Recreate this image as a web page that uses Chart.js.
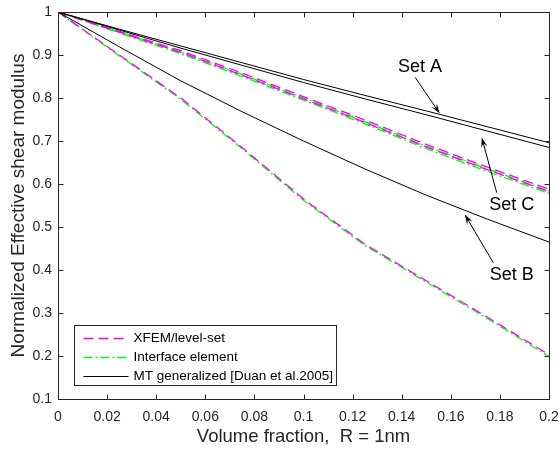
<!DOCTYPE html>
<html>
<head>
<meta charset="utf-8">
<title>Effective shear modulus</title>
<script src="https://cdn.jsdelivr.net/npm/chart.js@4.4.0/dist/chart.umd.min.js"></script>
<style>
  html, body { margin: 0; padding: 0; background: #fff; }
  #wrap { position: relative; width: 559px; height: 452px; }
</style>
</head>
<body>
<div id="wrap"><canvas id="shearChart"></canvas></div>
<script>
// volume fraction sample points
var volFrac = [0, 0.025, 0.05, 0.075, 0.1, 0.125, 0.15, 0.175, 0.2];

// MT generalized [Duan et al.2005]
var mtSetA1 = [1, 0.960, 0.921, 0.882, 0.843, 0.806, 0.770, 0.733, 0.696];
var mtSetA2 = [1, 0.958, 0.916, 0.876, 0.836, 0.798, 0.761, 0.723, 0.685];
var mtSetB  = [1, 0.919, 0.840, 0.768, 0.700, 0.635, 0.574, 0.518, 0.465];

// XFEM/level-set
var xfemSetC1 = [1, 0.955, 0.910, 0.858, 0.803, 0.749, 0.692, 0.639, 0.588];
var xfemSetC2 = [1, 0.953, 0.906, 0.853, 0.798, 0.743, 0.686, 0.633, 0.582];
var xfemSetB  = [1, 0.900, 0.800, 0.685, 0.565, 0.460, 0.375, 0.290, 0.203];

// Interface element
var ifeSetC1 = [1, 0.954, 0.907, 0.855, 0.800, 0.745, 0.688, 0.635, 0.584];
var ifeSetC2 = [1, 0.951, 0.903, 0.850, 0.795, 0.740, 0.682, 0.629, 0.578];
var ifeSetB  = [1, 0.898, 0.797, 0.682, 0.562, 0.457, 0.372, 0.287, 0.199];

var legendLabels = ['XFEM/level-set', 'Interface element', 'MT generalized [Duan et al.2005]'];

var FONT = '"Liberation Sans", Arial, Helvetica, sans-serif';
var INK = '#262626';
var MAGENTA = '#ff00ff', GREEN = '#00ff00', BLACK = '#000000';
var DASH = [10, 5], DASHDOT = [9, 3, 2, 3];

function pts(ys) {
  return volFrac.map(function (x, i) { return {x: x, y: ys[i]}; });
}

function line(label, ys, color, dash) {
  return {
    label: label,
    data: pts(ys),
    borderColor: color,
    backgroundColor: color,
    borderWidth: color === BLACK ? 1 : 1.3,
    borderDash: dash,
    pointRadius: 0,
    tension: 0,
    fill: false
  };
}

// annotations, placed in data units
var notes = [
  {text: 'Set A', at: [0.1475, 0.872], from: [0.1455, 0.848], to: [0.1555, 0.764]},
  {text: 'Set C', at: [0.1848, 0.551], from: [0.1787, 0.580], to: [0.1726, 0.708]},
  {text: 'Set B', at: [0.1848, 0.388], from: [0.1773, 0.417], to: [0.1657, 0.529]}
];

function arrow(ctx, x1, y1, x2, y2) {
  var ang = Math.atan2(y2 - y1, x2 - x1), L = 10, W = 3.2;
  ctx.beginPath();
  ctx.moveTo(x1, y1);
  ctx.lineTo(x2 - Math.cos(ang) * 4, y2 - Math.sin(ang) * 4);
  ctx.stroke();
  ctx.beginPath();
  ctx.moveTo(x2, y2);
  ctx.lineTo(x2 - L * Math.cos(ang) + W * Math.sin(ang), y2 - L * Math.sin(ang) - W * Math.cos(ang));
  ctx.lineTo(x2 - 0.6 * L * Math.cos(ang), y2 - 0.6 * L * Math.sin(ang));
  ctx.lineTo(x2 - L * Math.cos(ang) - W * Math.sin(ang), y2 - L * Math.sin(ang) + W * Math.cos(ang));
  ctx.closePath();
  ctx.fill();
}

var decorations = {
  id: 'decorations',
  afterDraw: function (chart) {
    var ctx = chart.ctx, a = chart.chartArea;
    var xs = chart.scales.x, ys = chart.scales.y;
    ctx.save();

    // axes box + inward ticks
    ctx.strokeStyle = INK;
    ctx.lineWidth = 1;
    ctx.setLineDash([]);
    var L = Math.round(a.left) + 0.5, R = Math.round(a.right) + 0.5;
    var T = Math.round(a.top) + 0.5, B = Math.round(a.bottom) + 0.5;
    ctx.strokeRect(L, T, R - L, B - T);
    ctx.beginPath();
    xs.ticks.forEach(function (t) {
      var px = Math.round(xs.getPixelForValue(t.value)) + 0.5;
      ctx.moveTo(px, B); ctx.lineTo(px, B - 5);
      ctx.moveTo(px, T); ctx.lineTo(px, T + 5);
    });
    ys.ticks.forEach(function (t) {
      var py = Math.round(ys.getPixelForValue(t.value)) + 0.5;
      ctx.moveTo(L, py); ctx.lineTo(L + 5, py);
      ctx.moveTo(R, py); ctx.lineTo(R - 5, py);
    });
    ctx.stroke();

    // annotations
    ctx.strokeStyle = BLACK;
    ctx.fillStyle = BLACK;
    ctx.font = '18px ' + FONT;
    ctx.textAlign = 'center';
    ctx.textBaseline = 'middle';
    notes.forEach(function (n) {
      ctx.fillText(n.text, xs.getPixelForValue(n.at[0]), ys.getPixelForValue(n.at[1]));
      arrow(ctx, xs.getPixelForValue(n.from[0]), ys.getPixelForValue(n.from[1]),
                 xs.getPixelForValue(n.to[0]), ys.getPixelForValue(n.to[1]));
    });

    // legend box
    var bx = Math.round(a.left) + 16.5, bw = 262, bh = 60;
    var by = Math.round(a.bottom) - 13.5 - bh;
    ctx.fillStyle = '#fff';
    ctx.fillRect(bx, by, bw, bh);
    ctx.strokeStyle = INK;
    ctx.strokeRect(bx, by, bw, bh);
    var styles = [[MAGENTA, DASH], [GREEN, DASHDOT], [BLACK, []]];
    ctx.font = '13.5px ' + FONT;
    ctx.textAlign = 'left';
    ctx.textBaseline = 'middle';
    legendLabels.forEach(function (lab, i) {
      var yy = Math.round(by + 12.5 + i * 19) + 0.5;
      ctx.strokeStyle = styles[i][0];
      ctx.lineWidth = i === 2 ? 1 : 1.3;
      ctx.setLineDash(styles[i][1]);
      ctx.beginPath();
      ctx.moveTo(bx + 9, yy);
      ctx.lineTo(bx + 54, yy);
      ctx.stroke();
      ctx.setLineDash([]);
      ctx.fillStyle = '#000';
      ctx.fillText(lab, bx + 59, yy);
    });
    ctx.restore();
  }
};

function fmt(v) { return String(Number(v.toFixed(2))); }

var ctx = document.getElementById('shearChart').getContext('2d');
var shearChart = new Chart(ctx, {
  type: 'line',
  data: {
    datasets: [
      line('MT generalized [Duan et al.2005]', mtSetA1, BLACK, []),
      line('MT A2', mtSetA2, BLACK, []),
      line('MT B', mtSetB, BLACK, []),
      line('XFEM/level-set', xfemSetC1, MAGENTA, DASH),
      line('XFEM C2', xfemSetC2, MAGENTA, DASH),
      line('XFEM B', xfemSetB, MAGENTA, DASH),
      line('Interface element', ifeSetC1, GREEN, DASHDOT),
      line('IFE C2', ifeSetC2, GREEN, DASHDOT),
      line('IFE B', ifeSetB, GREEN, DASHDOT)
    ]
  },
  options: {
    responsive: true,
    maintainAspectRatio: false,
    animation: false,
    layout: { padding: { top: 12, right: 10, left: 0, bottom: 0 } },
    plugins: { legend: { display: false }, tooltip: { enabled: false } },
    scales: {
      x: {
        type: 'linear',
        min: 0, max: 0.2,
        grid: { display: false, drawTicks: false },
        border: { display: false },
        ticks: { stepSize: 0.02, padding: 10, color: INK, font: { family: FONT, size: 14 }, maxRotation: 0, callback: fmt },
        title: { display: true, text: 'Volume fraction,  R = 1nm', color: INK, font: { family: FONT, size: 18.5 }, padding: { top: 0, bottom: 4 } },
        afterFit: function (s) { s.height = 53; s.paddingLeft = 0; s.paddingRight = 0; }
      },
      y: {
        type: 'linear',
        min: 0.1, max: 1,
        grid: { display: false, drawTicks: false },
        border: { display: false },
        ticks: { stepSize: 0.1, padding: 6, color: INK, font: { family: FONT, size: 14 }, callback: fmt },
        title: { display: true, text: 'Normalized Effective shear modulus', color: INK, font: { family: FONT, size: 19 }, padding: { top: 7, bottom: 0 } },
        afterFit: function (s) { s.width = 58; s.paddingTop = 0; s.paddingBottom = 0; }
      }
    }
  },
  plugins: [decorations]
});
</script>
</body>
</html>
